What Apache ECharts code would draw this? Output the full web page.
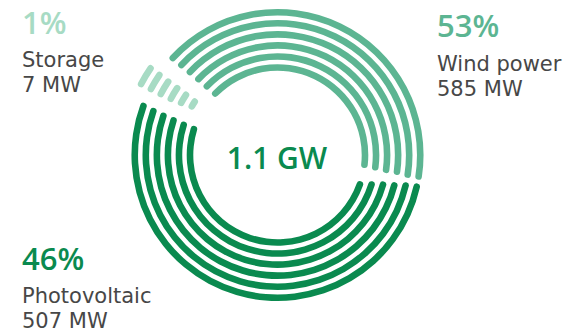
<!DOCTYPE html>
<html><head><meta charset="utf-8">
<script src="https://cdn.jsdelivr.net/npm/echarts@6/dist/echarts.min.js"></script>
<style>html,body{margin:0;padding:0;background:#fff}#c{width:567px;height:334px}</style>
</head><body><div id="c"></div>
<script>
// ---- data ----
const categories = ['Wind power', 'Photovoltaic', 'Storage'];
const shares = [53, 46, 1];          // %
const megawatts = [585, 507, 7];     // MW
const totalLabel = '1.1 GW';
// arc length in degrees of each segment on the six rings (inner -> outer)
const windArc = [146, 146.7, 147.4, 147.6, 148.3, 148.5];
const pvArc = [181.8, 184.2, 186.1, 187.5, 188.9, 189.9];
const storageArc = [8, 9.3, 9.9, 10, 10, 10];
const gapWindPv = [9, 6.5, 4.5, 3.5, 2, 1.5];
const gapPvStorage = [7.9, 6.5, 5.7, 5.2, 4.9, 4.5];
const gapStorageWind = [7.3, 6.8, 6.4, 6.2, 5.9, 5.6];
const windStartAngle = [137.5, 137.7, 137.9, 138.1, 138.3, 138.5];

// ---- styles ----
const colors = { wind: '#5cb592', pv: '#0a8a4f', storage: '#a7dbc4' };
const labelColor = '#474747';
const center = [277.5, 155];
const innerR = 87.5, ringStep = 11.05, thick = 6.6;

const series = windArc.map((w, i) => {
  const rc = innerR + i * ringStep;
  return {
    type: 'pie', silent: true, animation: false,
    center: center, radius: [rc - thick / 2, rc + thick / 2],
    startAngle: windStartAngle[i], clockwise: true,
    selectedMode: 'single', selectedOffset: 11,
    avoidLabelOverlap: false,
    label: { show: false }, labelLine: { show: false },
    emphasis: { disabled: true },
    itemStyle: { borderRadius: thick / 2, borderWidth: 0 },
    data: [
      { name: categories[0], value: w, itemStyle: { color: colors.wind } },
      { name: 'gap1', value: gapWindPv[i], itemStyle: { color: 'rgba(0,0,0,0)' } },
      { name: categories[1], value: pvArc[i], itemStyle: { color: colors.pv } },
      { name: 'gap2', value: gapPvStorage[i], itemStyle: { color: 'rgba(0,0,0,0)' } },
      { name: categories[2], value: storageArc[i], selected: true, itemStyle: { color: colors.storage } },
      { name: 'gap3', value: gapStorageWind[i], itemStyle: { color: 'rgba(0,0,0,0)' } }
    ]
  };
});

const NUM_FONT = '"Open Sans", sans-serif';
const LBL_FONT = '"DejaVu Sans", sans-serif';
function txt(text, x, y, size, weight, color, family, align) {
  return { type: 'text', silent: true, x: x, y: y,
    style: { text: text, fontFamily: family, fontSize: size, fontWeight: weight, fill: color,
      lineHeight: size, align: align || 'left', verticalAlign: 'middle' } };
}
const graphic = [
  txt(shares[2] + '%', 22, 21.5, 31, 600, colors.storage, NUM_FONT),
  txt(categories[2], 22, 60, 21, 'normal', labelColor, LBL_FONT),
  txt(megawatts[2] + ' MW', 22, 84.8, 21, 'normal', labelColor, LBL_FONT),
  txt(shares[0] + '%', 437, 25, 31, 600, colors.wind, NUM_FONT),
  txt(categories[0], 437, 64, 21, 'normal', labelColor, LBL_FONT),
  txt(megawatts[0] + ' MW', 437, 89, 21, 'normal', labelColor, LBL_FONT),
  txt(shares[1] + '%', 22, 257.5, 31, 600, colors.pv, NUM_FONT),
  txt(categories[1], 22, 295.5, 21, 'normal', labelColor, LBL_FONT),
  txt(megawatts[1] + ' MW', 22, 320.5, 21, 'normal', labelColor, LBL_FONT),
  txt(totalLabel, 277, 157.5, 30, 600, colors.pv, NUM_FONT, 'center')
];

const chart = echarts.init(document.getElementById('c'), null, { renderer: 'svg' });
chart.setOption({ backgroundColor: '#fff', animation: false, series: series, graphic: graphic });
</script></body></html>
